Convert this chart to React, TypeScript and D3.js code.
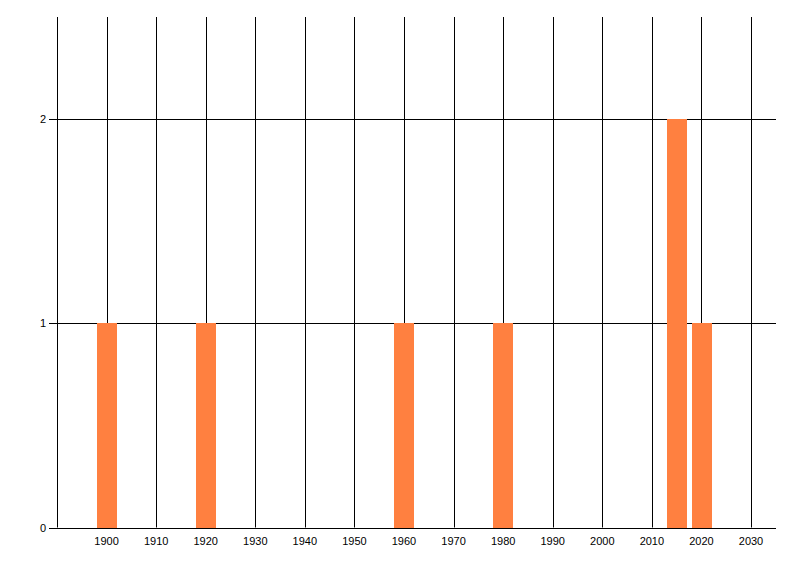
import React from "react";
import * as d3 from "d3";

const years = [1900, 1920, 1960, 1980, 2015, 2020];
const counts = [1, 1, 1, 1, 2, 1];
const xTicks = [1900, 1910, 1920, 1930, 1940, 1950, 1960, 1970, 1980, 1990, 2000, 2010, 2020, 2030];
const xGrid = [1890, ...xTicks];
const yTicks = [0, 1, 2];

export default function App() {
  const W = 800, H = 576;
  const x = d3.scaleLinear().domain([1890, 2035]).range([57, 775.8]);
  const y = d3.scaleLinear().domain([0, 2.5]).range([527.5, 17]);
  const barW = x(1904) - x(1900);
  const font = "'Liberation Sans', Arial, sans-serif";
  const px = (v: number) => Math.round(v) + 0.5;
  return (
    <svg width={W} height={H} style={{ position: "absolute", left: 0, top: 0, background: "#fff" }}>
      <rect x={0} y={0} width={W} height={H} fill="#fff" />
      {xGrid.map((t) => (
        <line key={"vg" + t} x1={px(x(t))} x2={px(x(t))} y1={y(2.5)} y2={y(0)} stroke="#000" strokeWidth={1} />
      ))}
      {yTicks.map((t) => (
        <line key={"hg" + t} x1={49} x2={776} y1={px(y(t))} y2={px(y(t))} stroke="#000" strokeWidth={1} />
      ))}
      {years.map((yr, i) => (
        <rect
          key={"b" + yr}
          x={Math.round(x(yr) - barW / 2)}
          y={Math.round(y(counts[i]))}
          width={Math.round(barW)}
          height={Math.round(y(0)) - Math.round(y(counts[i]))}
          fill="#FF8040"
          shapeRendering="crispEdges"
        />
      ))}
      <line x1={49} x2={776} y1={px(y(0))} y2={px(y(0))} stroke="#000" strokeWidth={1} />
      {yTicks.map((t) => (
        <text key={"yl" + t} x={46} y={y(t) + 4} textAnchor="end" fontFamily={font} fontSize={11} fill="#000">
          {t}
        </text>
      ))}
      {xTicks.map((t) => (
        <text key={"xl" + t} x={x(t)} y={545} textAnchor="middle" fontFamily={font} fontSize={11} fill="#000">
          {t}
        </text>
      ))}
    </svg>
  );
}
